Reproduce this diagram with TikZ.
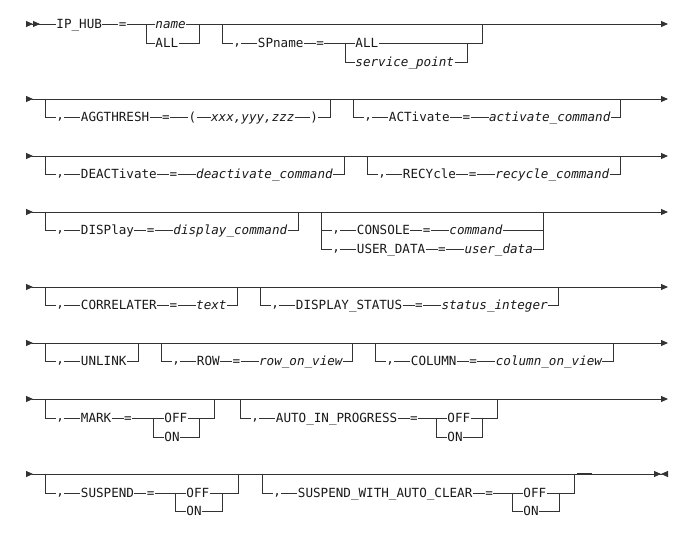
\documentclass[tikz,border=0pt]{standalone}
\usepackage{fontspec}
\setmonofont{DejaVu Sans Mono}
\usetikzlibrary{arrows.meta, positioning}

\begin{document}
\begin{tikzpicture} [x = 1pt, y = -1pt, color = black!80, line width = 0.9pt, node distance = 16pt,
  >= {Triangle[length = 7pt, width = 6pt, sep = 0pt]},
  kw/.style = {inner sep = 0pt, text = black!90, text height = 9.2pt, text depth = 0pt,
    font = \ttfamily\fontsize{12.6}{14}\selectfont},
  val/.style = {kw, font = \ttfamily\itshape\fontsize{12.6}{14}\selectfont},
  comma/.style = {kw, text height = 5pt}]

\useasboundingbox (0,0) rectangle (685,545);

% row 1
\coordinate (s1) at (26,24);
\coordinate (e1) at (668,24);
\node [kw, anchor = west] (hub) at (56,24) {IP\_HUB};
\node [kw, right = of hub] (q1) {=};
\node [val, anchor = west] (nm1) at (155,24) {name};
\node [kw, anchor = west] (all1) at (155,43) {ALL};
\coordinate (d1) at (146,24);
\coordinate (g1) at (199,24);
\draw [>>-] (s1) -- (hub);
\draw (hub) -- (q1) -- (nm1);
\draw [->] (nm1) -- (e1);
\draw (d1) |- (all1) -| (g1);

\coordinate (a1) at (222,24);
\coordinate (b1) at (482,24);
\node [comma, anchor = west] (c1) at (233,43) {,};
\node [kw, right = of c1] (k1) {SPname};
\node [kw, right = 12pt of k1] (q1b) {=};
\node [kw, anchor = west] (all2) at (355,43) {ALL};
\node [val, anchor = west] (sv1) at (355,62) {service\_point};
\coordinate (d1b) at (345,43);
\coordinate (g1b) at (467,43);
\draw (a1) |- (c1) -- (k1) -- (q1b) -- (all2) -| (b1);
\draw (d1b) |- (sv1) -| (g1b);

% row 2
\coordinate (s2) at (26,99);
\coordinate (e2) at (668,99);
\draw [>->] (s2) -- (e2);

\coordinate (a2a) at (45,99);
\coordinate (b2a) at (330,99);
\node [comma, anchor = west] (c2a) at (56,117) {,};
\node [kw, right = of c2a] (k2a) {AGGTHRESH};
\node [kw, right = 12pt of k2a] (q2a) {=};
\node [kw, right = 18pt of q2a] (l2a) {(};
\node [val, right = 14pt of l2a] (v2a) {xxx,yyy,zzz};
\node [kw, right = 15pt of v2a] (r2a) {)};
\draw (a2a) |- (c2a) -- (k2a) -- (q2a) -- (l2a) -- (v2a) -- (r2a) -| (b2a);

\coordinate (a2b) at (353,99);
\coordinate (b2b) at (620,99);
\node [comma, anchor = west] (c2b) at (364,117) {,};
\node [kw, right = of c2b] (k2b) {ACTivate};
\node [kw, right = 12pt of k2b] (q2b) {=};
\node [val, right = 18pt of q2b] (v2b) {activate\_command};
\draw (a2b) |- (c2b) -- (k2b) -- (q2b) -- (v2b) -| (b2b);

% row 3
\coordinate (s3) at (26,156);
\coordinate (e3) at (668,156);
\draw [>->] (s3) -- (e3);

\coordinate (a3a) at (45,156);
\coordinate (b3a) at (344,156);
\node [comma, anchor = west] (c3a) at (56,174) {,};
\node [kw, right = of c3a] (k3a) {DEACTivate};
\node [kw, right = 12pt of k3a] (q3a) {=};
\node [val, right = 18pt of q3a] (v3a) {deactivate\_command};
\draw (a3a) |- (c3a) -- (k3a) -- (q3a) -- (v3a) -| (b3a);

\coordinate (a3b) at (367,156);
\coordinate (b3b) at (620,156);
\node [comma, anchor = west] (c3b) at (378,174) {,};
\node [kw, right = of c3b] (k3b) {RECYcle};
\node [kw, right = 12pt of k3b] (q3b) {=};
\node [val, right = 18pt of q3b] (v3b) {recycle\_command};
\draw (a3b) |- (c3b) -- (k3b) -- (q3b) -- (v3b) -| (b3b);

% row 4
\coordinate (s4) at (26,212);
\coordinate (e4) at (668,212);
\draw [>->] (s4) -- (e4);

\coordinate (a4a) at (45,212);
\coordinate (b4a) at (298,212);
\node [comma, anchor = west] (c4a) at (56,230) {,};
\node [kw, right = of c4a] (k4a) {DISPlay};
\node [kw, right = 12pt of k4a] (q4a) {=};
\node [val, right = 18pt of q4a] (v4a) {display\_command};
\draw (a4a) |- (c4a) -- (k4a) -- (q4a) -- (v4a) -| (b4a);

\coordinate (a4b) at (321,212);
\coordinate (b4b) at (543,212);
\coordinate (d4b) at (321,230);
\coordinate (g4b) at (543,230);
\node [comma, anchor = west] (c4b) at (332,230) {,};
\node [kw, right = of c4b] (k4b) {CONSOLE};
\node [kw, right = 12pt of k4b] (q4b) {=};
\node [val, right = 18pt of q4b] (v4b) {command};
\node [comma, anchor = west] (c4c) at (332,249) {,};
\node [kw, right = of c4c] (k4c) {USER\_DATA};
\node [kw, right = 12pt of k4c] (q4c) {=};
\node [val, right = 18pt of q4c] (v4c) {user\_data};
\draw (d4b) -- (c4b) -- (k4b) -- (q4b) -- (v4b) -- (g4b);
\draw (a4b) |- (c4c) -- (k4c) -- (q4c) -- (v4c) -| (b4b);

% row 5
\coordinate (s5) at (26,287);
\coordinate (e5) at (668,287);
\draw [>->] (s5) -- (e5);

\coordinate (a5a) at (45,287);
\coordinate (b5a) at (237,287);
\node [comma, anchor = west] (c5a) at (56,305) {,};
\node [kw, right = of c5a] (k5a) {CORRELATER};
\node [kw, right = 12pt of k5a] (q5a) {=};
\node [val, right = 18pt of q5a] (v5a) {text};
\draw (a5a) |- (c5a) -- (k5a) -- (q5a) -- (v5a) -| (b5a);

\coordinate (a5b) at (260,287);
\coordinate (b5b) at (558,287);
\node [comma, anchor = west] (c5b) at (271,305) {,};
\node [kw, right = of c5b] (k5b) {DISPLAY\_STATUS};
\node [kw, right = 12pt of k5b] (q5b) {=};
\node [val, right = 18pt of q5b] (v5b) {status\_integer};
\draw (a5b) |- (c5b) -- (k5b) -- (q5b) -- (v5b) -| (b5b);

% row 6
\coordinate (s6) at (26,343);
\coordinate (e6) at (668,343);
\draw [>->] (s6) -- (e6);

\coordinate (a6a) at (45,343);
\coordinate (b6a) at (138,343);
\node [comma, anchor = west] (c6a) at (56,361) {,};
\node [kw, right = of c6a] (k6a) {UNLINK};
\draw (a6a) |- (c6a) -- (k6a) -| (b6a);

\coordinate (a6b) at (161,343);
\coordinate (b6b) at (352,343);
\node [comma, anchor = west] (c6b) at (172,361) {,};
\node [kw, right = of c6b] (k6b) {ROW};
\node [kw, right = 12pt of k6b] (q6b) {=};
\node [val, right = 18pt of q6b] (v6b) {row\_on\_view};
\draw (a6b) |- (c6b) -- (k6b) -- (q6b) -- (v6b) -| (b6b);

\coordinate (a6c) at (375,343);
\coordinate (b6c) at (613,343);
\node [comma, anchor = west] (c6c) at (386,361) {,};
\node [kw, right = of c6c] (k6c) {COLUMN};
\node [kw, right = 12pt of k6c] (q6c) {=};
\node [val, right = 18pt of q6c] (v6c) {column\_on\_view};
\draw (a6c) |- (c6c) -- (k6c) -- (q6c) -- (v6c) -| (b6c);

% row 7
\coordinate (s7) at (26,399);
\coordinate (e7) at (668,399);
\draw [>->] (s7) -- (e7);

\coordinate (a7a) at (45,399);
\coordinate (b7a) at (214,399);
\coordinate (d7a) at (153,418);
\coordinate (g7a) at (199,418);
\node [comma, anchor = west] (c7a) at (56,418) {,};
\node [kw, right = of c7a] (k7a) {MARK};
\node [kw, right = 12pt of k7a] (q7a) {=};
\node [kw, anchor = west] (f7a) at (164,418) {OFF};
\node [kw, anchor = west] (n7a) at (164,437) {ON};
\draw (a7a) |- (c7a) -- (k7a) -- (q7a) -- (f7a) -| (b7a);
\draw (d7a) |- (n7a) -| (g7a);

\coordinate (a7b) at (240,399);
\coordinate (b7b) at (497,399);
\coordinate (d7b) at (436,418);
\coordinate (g7b) at (482,418);
\node [comma, anchor = west] (c7b) at (251,418) {,};
\node [kw, right = of c7b] (k7b) {AUTO\_IN\_PROGRESS};
\node [kw, right = 12pt of k7b] (q7b) {=};
\node [kw, anchor = west] (f7b) at (447,418) {OFF};
\node [kw, anchor = west] (n7b) at (447,437) {ON};
\draw (a7b) |- (c7b) -- (k7b) -- (q7b) -- (f7b) -| (b7b);
\draw (d7b) |- (n7b) -| (g7b);

% row 8
\coordinate (s8) at (26,474);
\coordinate (e8) at (668,474);
\coordinate (t8l) at (577,474);
\coordinate (t8r) at (592,474);
\draw [>-><] (s8) -- (e8);
\draw [line width = 2pt] (t8l) -- (t8r);

\coordinate (a8a) at (45,474);
\coordinate (b8a) at (238,474);
\coordinate (d8a) at (175,493);
\coordinate (g8a) at (222,493);
\node [comma, anchor = west] (c8a) at (56,493) {,};
\node [kw, right = of c8a] (k8a) {SUSPEND};
\node [kw, right = 12pt of k8a] (q8a) {=};
\node [kw, anchor = west] (f8a) at (186,493) {OFF};
\node [kw, anchor = west] (n8a) at (186,511) {ON};
\draw (a8a) |- (c8a) -- (k8a) -- (q8a) -- (f8a) -| (b8a);
\draw (d8a) |- (n8a) -| (g8a);

\coordinate (a8b) at (262,474);
\coordinate (b8b) at (574,474);
\coordinate (d8b) at (512,493);
\coordinate (g8b) at (559,493);
\node [comma, anchor = west] (c8b) at (273,493) {,};
\node [kw, right = of c8b] (k8b) {SUSPEND\_WITH\_AUTO\_CLEAR};
\node [kw, right = 12pt of k8b] (q8b) {=};
\node [kw, anchor = west] (f8b) at (523,493) {OFF};
\node [kw, anchor = west] (n8b) at (523,511) {ON};
\draw (a8b) |- (c8b) -- (k8b) -- (q8b) -- (f8b) -| (b8b);
\draw (d8b) |- (n8b) -| (g8b);

\end{tikzpicture}
\end{document}
